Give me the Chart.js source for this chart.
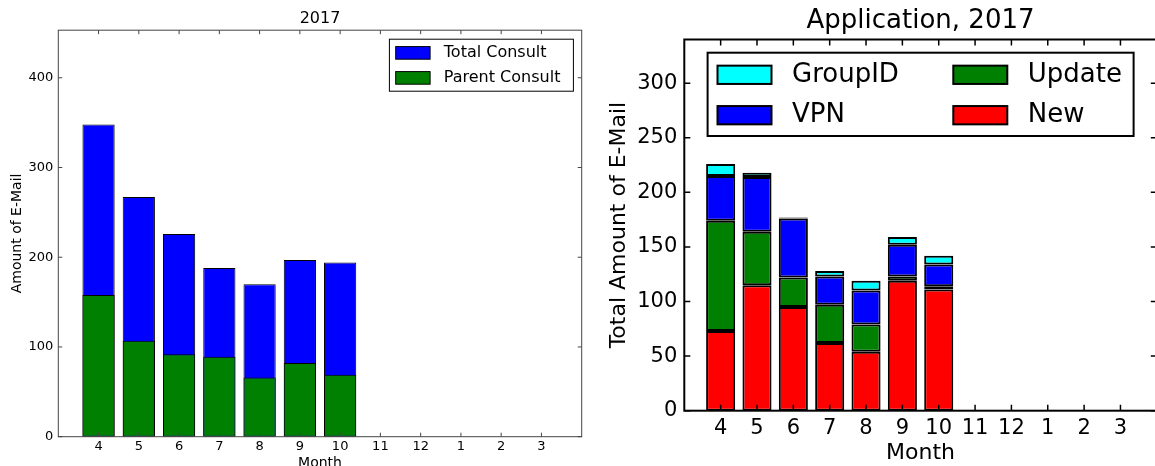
<!DOCTYPE html>
<html>
<head>
<meta charset="utf-8">
<script src="https://cdn.jsdelivr.net/npm/chart.js@4.4.0/dist/chart.umd.min.js"></script>
<style>
html, body { margin: 0; padding: 0; background: #fff; overflow: hidden; width: 1155px; height: 466px; }
#left { position: absolute; left: 0; top: 0; width: 600px; height: 480px; }
#right { position: absolute; left: 590px; top: 0; width: 570px; height: 466px; }
</style>
</head>
<body>
<div id="left"><canvas id="consultChart"></canvas></div>
<div id="right"><canvas id="appChart"></canvas></div>
<script>
const months = ['4', '5', '6', '7', '8', '9', '10', '11', '12', '1', '2', '3'];

// consult mails (total is drawn behind parent)
const totalConsult  = [348, 267, 226, 188, 170, 197, 194, 0, 0, 0, 0, 0];
const parentConsult = [158, 107, 92, 89, 66, 82, 69, 0, 0, 0, 0, 0];

// application mails, stacked bottom to top
const newApp  = [73, 115, 95, 62, 54, 119, 111, 0, 0, 0, 0, 0];
const update  = [101, 49, 27, 35, 25, 4, 3, 0, 0, 0, 0, 0];
const vpn     = [41, 50, 54, 26, 31, 29, 20, 0, 0, 0, 0, 0];
const groupId = [11, 4, 1, 5, 9, 7, 8, 0, 0, 0, 0, 0];

Chart.defaults.font.family = 'DejaVu Sans';
Chart.defaults.color = '#000';

const pts = arr => arr.map((v, i) => ({ x: i, y: v }));

// matplotlib-like box with inward ticks on all four sides
const frame = {
    id: 'frame',
    afterDatasetsDraw(chart, args, o) {
        const { ctx, chartArea: a, scales: { x, y } } = chart;
        ctx.save();
        ctx.strokeStyle = o.color;
        ctx.lineWidth = o.tickWidth;
        ctx.beginPath();
        x.ticks.forEach(t => {
            const px = x.getPixelForValue(t.value);
            ctx.moveTo(px, a.bottom); ctx.lineTo(px, a.bottom - o.len);
            ctx.moveTo(px, a.top); ctx.lineTo(px, a.top + o.len);
        });
        y.ticks.forEach(t => {
            const py = y.getPixelForValue(t.value);
            ctx.moveTo(a.left, py); ctx.lineTo(a.left + o.len, py);
            ctx.moveTo(a.right, py); ctx.lineTo(a.right - o.len, py);
        });
        ctx.stroke();
        ctx.lineWidth = o.width;
        ctx.strokeRect(a.left, a.top, a.right - a.left, a.bottom - a.top);
        ctx.restore();
    }
};

// boxed legend, filled column by column
const boxLegend = {
    id: 'boxLegend',
    afterDraw(chart, args, o) {
        const { ctx, chartArea: a } = chart;
        const bx = o.anchor === 'right' ? a.right - o.inset[0] - o.w : a.left + o.inset[0];
        const by = a.top + o.inset[1];
        ctx.save();
        ctx.fillStyle = '#fff';
        ctx.fillRect(bx, by, o.w, o.h);
        ctx.strokeStyle = '#000';
        ctx.lineWidth = o.lineWidth;
        ctx.strokeRect(bx, by, o.w, o.h);
        ctx.font = o.font;
        ctx.textBaseline = 'middle';
        ctx.textAlign = 'left';
        o.order.forEach((di, k) => {
            const ds = chart.data.datasets[di];
            const col = Math.floor(k / o.rows), row = k % o.rows;
            const sx = bx + o.pad + col * o.colW;
            const cy = by + o.firstRow + row * o.rowH;
            ctx.fillStyle = ds.backgroundColor;
            ctx.fillRect(sx, cy - o.sh / 2, o.sw, o.sh);
            ctx.strokeRect(sx, cy - o.sh / 2, o.sw, o.sh);
            ctx.fillStyle = '#000';
            ctx.fillText(ds.label, sx + o.textGap, cy);
        });
        ctx.restore();
    }
};

const monthTicks = s => { s.ticks = months.map((m, i) => ({ value: i })); };

new Chart(document.getElementById('consultChart'), {
    type: 'bar',
    plugins: [frame, boxLegend],
    data: {
        datasets: [
            { label: 'Total Consult', data: pts(totalConsult), backgroundColor: '#0000ff', order: 1 },
            { label: 'Parent Consult', data: pts(parentConsult), backgroundColor: '#008000', order: 0 }
        ]
    },
    options: {
        responsive: true,
        maintainAspectRatio: false,
        animation: false,
        devicePixelRatio: 1,
        datasets: {
            bar: { grouped: false, barPercentage: 0.8, categoryPercentage: 1, borderColor: '#000', borderWidth: 1, borderSkipped: false }
        },
        layout: { padding: { left: 0, right: 18.3, top: 0, bottom: 0 } },
        plugins: {
            title: { display: true, text: '2017', fullSize: false, font: { size: 16, weight: 'normal' }, padding: { top: 9, bottom: 2 } },
            legend: { display: false },
            tooltip: { enabled: false },
            frame: { color: '#444', width: 1, tickWidth: 1, len: 4 },
            boxLegend: {
                anchor: 'right', inset: [8.3, 9], w: 184, h: 52, lineWidth: 1,
                pad: 6.3, sw: 34.4, sh: 12.6, firstRow: 13.7, rowH: 25, colW: 0, rows: 2,
                textGap: 48.1, font: '16px "DejaVu Sans"', order: [0, 1]
            }
        },
        scales: {
            x: {
                type: 'linear', min: -1, max: 12, offset: false,
                grid: { display: false, drawTicks: false }, border: { display: false },
                afterBuildTicks: monthTicks,
                ticks: { callback: v => months[v], padding: 2, font: { size: 13 }, autoSkip: false, maxRotation: 0 },
                title: { display: true, text: 'Month', font: { size: 14 }, padding: { top: 0, bottom: 8.6 } },
                afterFit: s => { s.height = 43.3; }
            },
            y: {
                min: 0, max: 453,
                grid: { display: false, drawTicks: false }, border: { display: false },
                ticks: { stepSize: 100, includeBounds: false, padding: 5, font: { size: 13 } },
                title: { display: true, text: 'Amount of E-Mail', font: { size: 14 }, padding: { top: 8.6, bottom: 0 } },
                afterFit: s => { s.width = 58.3; }
            }
        }
    }
});

new Chart(document.getElementById('appChart'), {
    type: 'bar',
    plugins: [frame, boxLegend],
    data: {
        datasets: [
            { label: 'New', data: pts(newApp), backgroundColor: '#ff0000' },
            { label: 'Update', data: pts(update), backgroundColor: '#008000' },
            { label: 'VPN', data: pts(vpn), backgroundColor: '#0000ff' },
            { label: 'GroupID', data: pts(groupId), backgroundColor: '#00ffff' }
        ]
    },
    options: {
        responsive: true,
        maintainAspectRatio: false,
        animation: false,
        devicePixelRatio: 1,
        datasets: {
            bar: { barPercentage: 0.8, categoryPercentage: 1, borderColor: '#000', borderWidth: 2, borderSkipped: false }
        },
        layout: { padding: { left: 0, right: 3.2, top: 0, bottom: 0 } },
        plugins: {
            title: { display: true, text: 'Application, 2017', fullSize: false, font: { size: 26, weight: 'normal' }, padding: { top: 5.4, bottom: 2.9 } },
            legend: { display: false },
            tooltip: { enabled: false },
            frame: { color: '#000', width: 2, tickWidth: 1.5, len: 6 },
            boxLegend: {
                anchor: 'left', inset: [23.3, 13.2], w: 426, h: 83.3, lineWidth: 2,
                pad: 9.9, sw: 54, sh: 18.3, firstRow: 22.1, rowH: 40.4, colW: 235.8, rows: 2,
                textGap: 74.5, font: '26px "DejaVu Sans"', order: [3, 2, 1, 0]
            }
        },
        scales: {
            x: {
                type: 'linear', min: -1, max: 12, stacked: true, offset: false,
                grid: { display: false, drawTicks: false }, border: { display: false },
                afterBuildTicks: monthTicks,
                ticks: { callback: v => months[v], padding: 5, font: { size: 21 }, autoSkip: false, maxRotation: 0 },
                title: { display: true, text: 'Month', font: { size: 22 }, padding: { top: 0, bottom: 0 } },
                afterFit: s => { s.height = 55.3; }
            },
            y: {
                min: 0, max: 340, stacked: true,
                grid: { display: false, drawTicks: false }, border: { display: false },
                ticks: { stepSize: 50, includeBounds: false, padding: 7, font: { size: 21 } },
                title: { display: true, text: 'Total Amount of E-Mail', font: { size: 22 }, padding: { top: 16.3, bottom: 0 } },
                afterFit: s => { s.width = 94.3; }
            }
        }
    }
});
</script>
</body>
</html>
